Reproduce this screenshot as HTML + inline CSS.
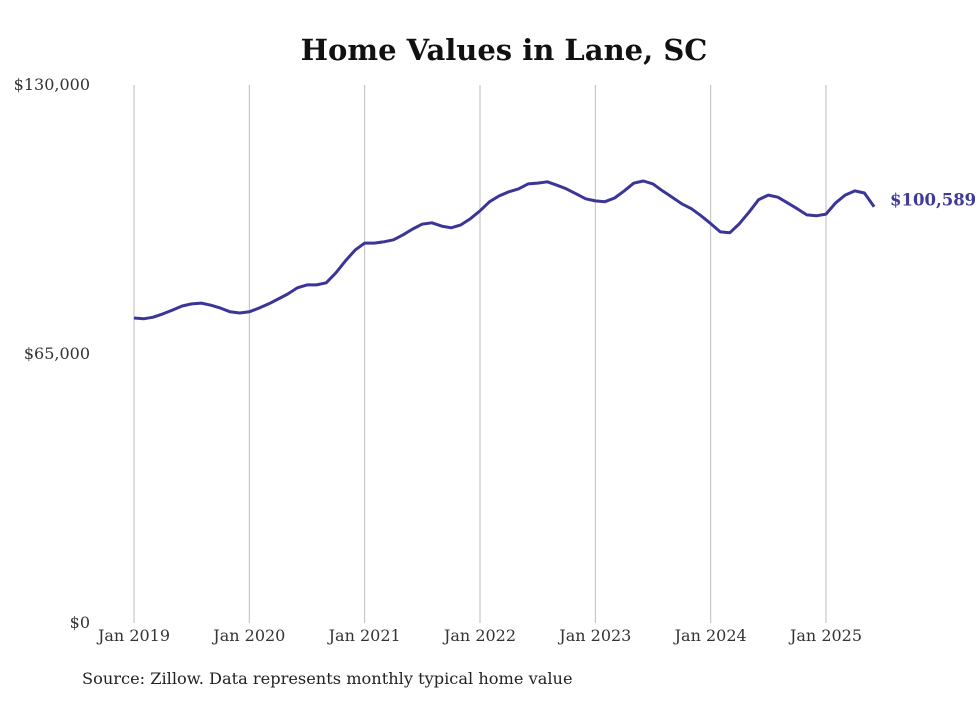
<!DOCTYPE html>
<html><head><meta charset="utf-8">
<style>
body{margin:0;background:#fff;width:980px;height:699px;overflow:hidden;font-family:"DejaVu Serif","Liberation Serif",serif;}
svg text{font-family:"DejaVu Serif","Liberation Serif",serif;}
</style></head>
<body>
<svg id="chart" width="980" height="699">
<text x="504" y="60" text-anchor="middle" font-size="29" font-weight="bold" fill="#111">Home Values in Lane, SC</text>
<g id="grid"></g>
<g id="yticks"></g>
<g id="xticks"></g>
<path id="line" fill="none" stroke="#3b3598" stroke-width="3" stroke-linejoin="round"></path>
<text id="lastlabel" font-size="16.5" font-weight="bold" fill="#3d3a9a"></text>
<text x="82" y="684" font-size="16.2" fill="#222">Source: Zillow. Data represents monthly typical home value</text>
</svg>
<script>
const yTicks=[0,65000,130000];
const yTickLabels=["$0","$65,000","$130,000"];
const xYears=[2019,2020,2021,2022,2023,2024,2025];
const xTickLabels=["Jan 2019","Jan 2020","Jan 2021","Jan 2022","Jan 2023","Jan 2024","Jan 2025"];
const values=[73.7,73.5,73.9,74.7,75.6,76.6,77.1,77.3,76.8,76.1,75.2,74.9,
75.2,76.1,77.1,78.3,79.5,81.0,81.7,81.7,82.2,84.6,87.5,90.1,
91.8,91.8,92.1,92.6,93.8,95.2,96.4,96.7,95.9,95.5,96.2,97.7,
99.6,101.8,103.2,104.2,104.9,106.1,106.3,106.6,105.8,104.9,103.7,102.5,
102.0,101.8,102.7,104.4,106.3,106.8,106.1,104.4,102.9,101.3,100.1,98.4,
96.5,94.5,94.3,96.5,99.3,102.3,103.4,102.9,101.5,100.1,98.6,98.4,
98.8,101.5,103.4,104.4,103.9,100.589].map(v=>v*1000);
const lastLabel="$100,589";

const NS="http://www.w3.org/2000/svg";
const x=m=>134+m*(826-134)/72;
const y=v=>623-v*(623-85)/130000;
const grid=document.getElementById('grid'),yt=document.getElementById('yticks'),xt=document.getElementById('xticks');
xYears.forEach((yr,i)=>{
  const m=(yr-2019)*12;
  const l=document.createElementNS(NS,'line');
  l.setAttribute('x1',x(m));l.setAttribute('x2',x(m));l.setAttribute('y1',85);l.setAttribute('y2',623);
  l.setAttribute('stroke','#bdbdbd');l.setAttribute('stroke-width','1');
  
  
  grid.appendChild(l);
  const t=document.createElementNS(NS,'text');
  t.setAttribute('x',x(m));t.setAttribute('y',641);t.setAttribute('text-anchor','middle');
  t.setAttribute('font-size','16');t.setAttribute('fill','#333');
  t.textContent=xTickLabels[i];
  
  
  xt.appendChild(t);
});
yTicks.forEach((v,i)=>{
  const t=document.createElementNS(NS,'text');
  t.setAttribute('x',90);t.setAttribute('y',y(v)+5);t.setAttribute('text-anchor','end');
  t.setAttribute('font-size','16');t.setAttribute('fill','#333');
  t.textContent=yTickLabels[i];
  
  
  yt.appendChild(t);
});
let d='';
values.forEach((v,i)=>{d+=(i?'L':'M')+x(i).toFixed(1)+','+y(v).toFixed(1);});
document.getElementById('line').setAttribute('d',d);
const n=values.length-1;
const lb=document.getElementById('lastlabel');
lb.setAttribute('x',x(n)+16);lb.setAttribute('y',y(values[n])-1);
lb.textContent=lastLabel;
</script>
</body></html>
